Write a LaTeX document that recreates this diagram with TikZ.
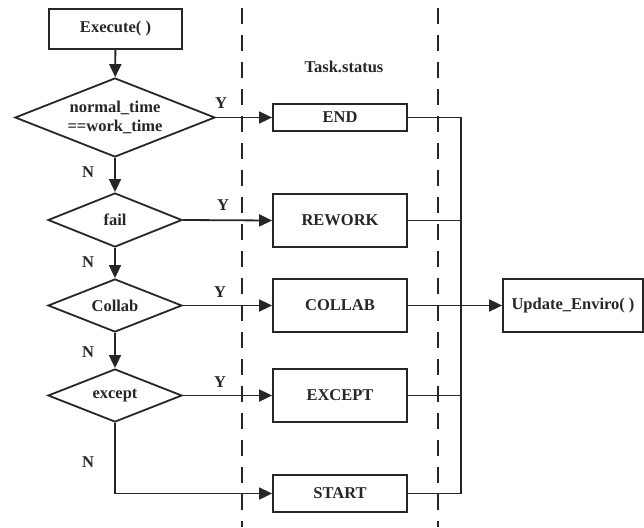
\documentclass[tikz,border=0pt]{standalone}
\usepackage{fontspec}
\setmainfont{Liberation Serif}
\usetikzlibrary{shapes.geometric,arrows.meta}
\begin{document}
\begin{tikzpicture}[x=1pt,y=-1pt,
  every node/.style={font=\fontsize{16.5}{18.5}\selectfont\bfseries, text=black!85},
  box/.style={draw=black!85, line width=1.8pt, rectangle, inner sep=0pt, fill=white},
  dec/.style={draw=black!85, line width=1.8pt, diamond, inner sep=0pt, align=center, fill=white},
  conn/.style={draw=black!85, line width=1.8pt},
  arr/.style={conn, -{Triangle[length=13pt,width=12pt]}},
  lane/.style={draw=black!85, line width=1.7pt, dash pattern=on 16pt off 11pt},
  lbl/.style={inner sep=0pt}]
\useasboundingbox (0,0) rectangle (644,527);
% lanes
\coordinate (l1t) at (242,8); \coordinate (l1b) at (242,527);
\coordinate (l2t) at (438,8); \coordinate (l2b) at (438,527);
\draw[lane] (l1t) -- (l1b);
\draw[lane] (l2t) -- (l2b);
% left column
\node[box, minimum width=133pt, minimum height=40pt] (exec) at (115.5,29) {Execute( )};
\node[dec, minimum width=200pt, minimum height=79pt, aspect=2.53] (d1) at (115,117.5) {normal\_time\\==work\_time};
\node[dec, minimum width=134pt, minimum height=54pt, aspect=2.48] (d2) at (115,220) {fail};
\node[dec, minimum width=134pt, minimum height=53pt, aspect=2.53] (d3) at (115,305.5) {Collab};
\node[dec, minimum width=134pt, minimum height=53pt, aspect=2.53] (d4) at (115,395.5) {except};
% status column
\node[lbl] (ts) at (344,67) {Task.status};
\node[box, minimum width=134pt, minimum height=27pt] (s1) at (340,117.5) {END};
\node[box, minimum width=134pt, minimum height=53pt] (s2) at (340,220.5) {REWORK};
\node[box, minimum width=134pt, minimum height=53pt] (s3) at (340,305.5) {COLLAB};
\node[box, minimum width=134pt, minimum height=53pt] (s4) at (340,395.5) {EXCEPT};
\node[box, minimum width=134pt, minimum height=37pt] (s5) at (340,493.5) {START};
\node[box, minimum width=140pt, minimum height=53pt] (up) at (573,305.5) {Update\_Enviro( )};
% vertical flow
\draw[arr] (exec) -- (d1);
\draw[arr] (d1) -- (d2);
\draw[arr] (d2) -- (d3);
\draw[arr] (d3) -- (d4);
% yes branches
\draw[arr] (d1.east) -- (s1.west);
\draw[arr] (d2.east) -- (s2.west);
\draw[arr] (d3.east) -- (s3.west);
\draw[arr] (d4.east) -- (s4.west);
\draw[arr] (d4.south) |- (s5.west);
% bus
\coordinate (bt) at (461,117.5);
\coordinate (bb) at (461,493.5);
\draw[conn] (s1.east) -- (bt) -- (bb) -- (s5.east);
\draw[conn] (s2.east) -- (s2.east -| bt);
\draw[conn] (s4.east) -- (s4.east -| bt);
\draw[arr] (s3.east) -- (up.west);
% labels
\node[lbl] (y1) at (221,103) {Y};
\node[lbl] (y2) at (223,205) {Y};
\node[lbl] (y3) at (220,292) {Y};
\node[lbl] (y4) at (220,382) {Y};
\node[lbl] (n1) at (88,172) {N};
\node[lbl] (n2) at (88,262) {N};
\node[lbl] (n3) at (88,352) {N};
\node[lbl] (n4) at (88,462) {N};
\end{tikzpicture}
\end{document}
